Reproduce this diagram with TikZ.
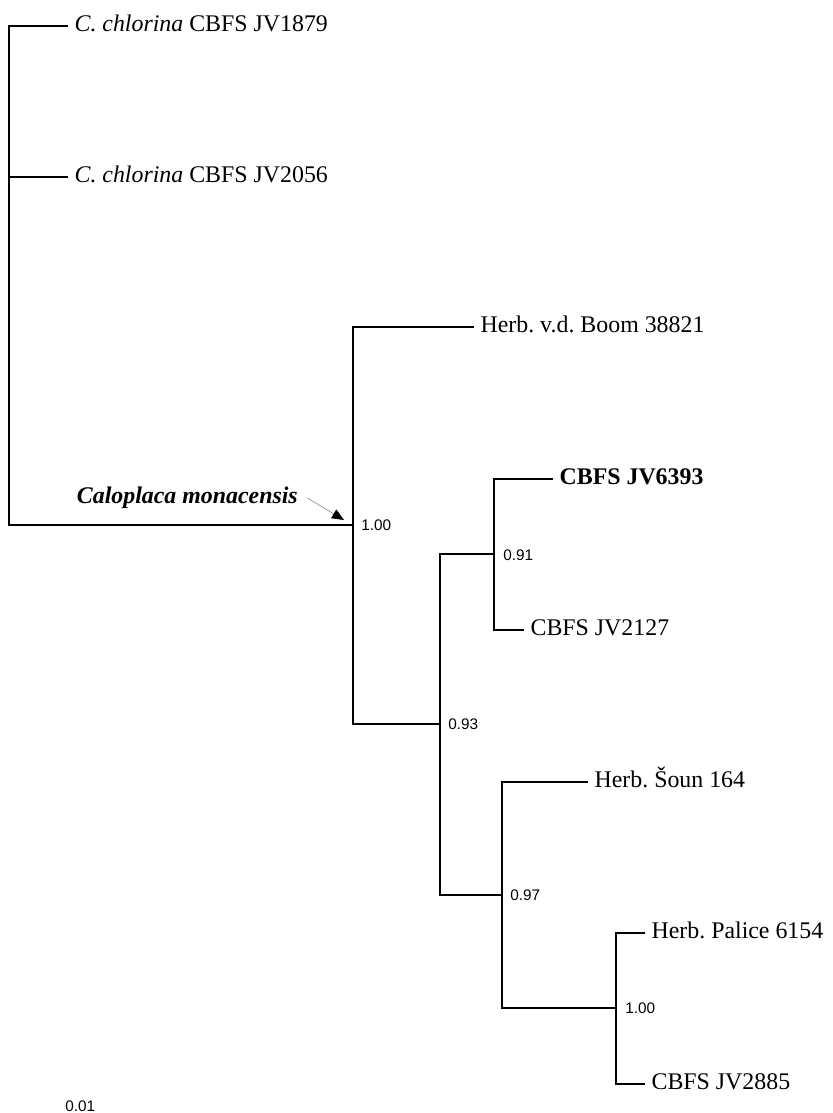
\documentclass[tikz,border=0pt]{standalone}
\usepackage{fontspec}
\setmainfont{Liberation Serif}
\newfontfamily\labelfont{Liberation Sans}
\usetikzlibrary{arrows.meta,positioning}
\frenchspacing

\begin{document}
\begin{tikzpicture}[
          x=0.75pt, y=-0.75pt,
          branch/.style={line width=1.4pt, line cap=rect},
          leaf/.style={anchor=west, inner xsep=5.5pt, inner ysep=0pt,
                       text height=8.6pt, text depth=0pt,
                       font=\fontsize{17.9}{20}\selectfont},
          supp/.style={anchor=west, inner sep=0pt, text height=8.2pt, text depth=0pt,
                       font=\labelfont\fontsize{11.5}{13}\selectfont},
          pointer/.style={draw=gray, line width=0.4pt,
                          -{Triangle[length=9pt, width=7.5pt, color=black]}}
      ]
        \useasboundingbox (0,0) rectangle (832,1113);

        % internal nodes of the tree
        \coordinate (root) at (9,525);
        \coordinate (cmon) at (353,525);
        \coordinate (n93)  at (440,724);
        \coordinate (n91)  at (494,554);
        \coordinate (n97)  at (502,895);
        \coordinate (n100) at (616,1008);

        % terminal taxa
        \node[leaf] (chl1)  at (67,26)   {\textit{C. chlorina} CBFS JV1879};
        \node[leaf] (chl2)  at (67,177)  {\textit{C. chlorina} CBFS JV2056};
        \node[leaf] (boom)  at (473,327) {Herb. v.d. Boom 38821};
        \node[leaf] (jv6393) at (552,479) {\textbf{CBFS JV6393}};
        \node[leaf] (jv2127) at (523,630) {CBFS JV2127};
        \node[leaf] (soun)  at (587,782) {Herb. Šoun 164};
        \node[leaf] (palice) at (644,933) {Herb. Palice 6154};
        \node[leaf] (jv2885) at (644,1084) {CBFS JV2885};

        % branches
        \draw[branch] (root) |- (chl1.west);
        \draw[branch] (root) |- (chl2.west);
        \draw[branch] (root) -- (cmon);
        \draw[branch] (cmon) |- (boom.west);
        \draw[branch] (cmon) |- (n93);
        \draw[branch] (n93) |- (n91);
        \draw[branch] (n93) |- (n97);
        \draw[branch] (n91) |- (jv6393.west);
        \draw[branch] (n91) |- (jv2127.west);
        \draw[branch] (n97) |- (soun.west);
        \draw[branch] (n97) |- (n100);
        \draw[branch] (n100) |- (palice.west);
        \draw[branch] (n100) |- (jv2885.west);

        % support values
        \node[supp] (s1) at (361,525)  {1.00};
        \node[supp] (s2) at (503,555)  {0.91};
        \node[supp] (s3) at (448,724)  {0.93};
        \node[supp] (s4) at (510,895)  {0.97};
        \node[supp] (s5) at (625,1008) {1.00};

        % clade label
        \node[leaf, anchor=east, inner xsep=0pt] (cmonlbl) at (298,498)
            {\textbf{\textit{Caloplaca monacensis}}};
        \coordinate (cmontip) at (344,520);
        \draw[pointer] ([xshift=7]cmonlbl.east) -- (cmontip);

        % scale
        \node[supp] (scale) at (65,1106) {0.01};
      \end{tikzpicture}
\end{document}
